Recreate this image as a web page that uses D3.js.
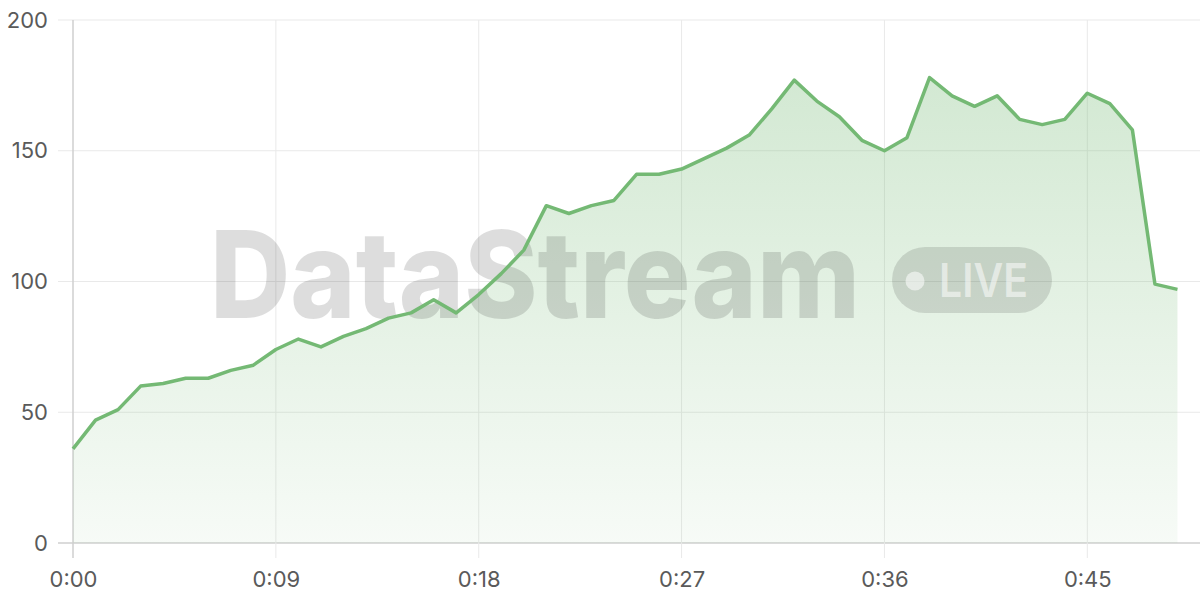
<!DOCTYPE html>
<html>
<head>
<meta charset="utf-8">
<script src="https://cdn.jsdelivr.net/npm/d3@7"></script>
<style>
  html, body { margin: 0; padding: 0; background: #fff; }
  svg { display: block; font-family: Inter, "Noto Sans", sans-serif; }
</style>
</head>
<body>
<svg id="chart" width="1200" height="600"></svg>
<script>
// Data: seconds elapsed and values
const seconds = d3.range(0, 50);
const values = [36, 47, 51, 60, 61, 63, 63, 66, 68, 74,
                78, 75, 79, 82, 86, 88, 93, 88, 95, 103,
                112, 129, 126, 129, 131, 141, 141, 143, 147, 151,
                156, 166, 177, 169, 163, 154, 150, 155, 178, 171,
                167, 171, 162, 160, 162, 172, 168, 158, 99, 97];
const xTicks = [0, 9, 18, 27, 36, 45];
const yTicks = [0, 50, 100, 150, 200];
const watermarkText = "DataStream";
const badgeText = "LIVE";

(function () {
const data = seconds.map((s, i) => ({ s, v: values[i] }));

const svg = d3.select("#chart");
const mLeft = 73, mRight = 1200, mTop = 20, mBottom = 543;
const labelFont = "Inter, sans-serif";

const x = d3.scaleLinear().domain([0, 50]).range([mLeft, mRight]);
const y = d3.scaleLinear().domain([0, 200]).range([mBottom, mTop]);

const fmt = s => `${Math.floor(s / 60)}:${String(s % 60).padStart(2, "0")}`;

// defs: gradient
const defs = svg.append("defs");
const grad = defs.append("linearGradient")
  .attr("id", "areaGrad").attr("gradientUnits", "userSpaceOnUse")
  .attr("x1", 0).attr("x2", 0).attr("y1", y(178)).attr("y2", y(0));
grad.append("stop").attr("offset", "0%").attr("stop-color", "#74b974").attr("stop-opacity", 0.32);
grad.append("stop").attr("offset", "100%").attr("stop-color", "#74b974").attr("stop-opacity", 0.06);

// grid lines
const grid = svg.append("g");
grid.selectAll("line.h").data(yTicks).join("line")
  .attr("x1", mLeft - 15).attr("x2", mRight)
  .attr("y1", d => y(d)).attr("y2", d => y(d))
  .attr("stroke", d => d === 0 ? "#cfcfcf" : "#e9e9e9").attr("stroke-width", d => d === 0 ? 1.5 : 1);
grid.selectAll("line.v").data(xTicks).join("line")
  .attr("x1", d => x(d)).attr("x2", d => x(d))
  .attr("y1", mTop).attr("y2", mBottom + 15)
  .attr("stroke", d => d === 0 ? "#cfcfcf" : "#e9e9e9").attr("stroke-width", d => d === 0 ? 1.5 : 1);

// area
const area = d3.area().x(d => x(d.s)).y0(y(0)).y1(d => y(d.v));
svg.append("path").datum(data).attr("d", area).attr("fill", "url(#areaGrad)");

// watermark
const wm = svg.append("g").attr("pointer-events", "none");
wm.append("text")
  .attr("x", 210).attr("y", 318)
  .attr("font-size", 121).attr("font-weight", 800)
  .attr("textLength", 650).attr("lengthAdjust", "spacingAndGlyphs")
  .attr("fill", "rgba(0,0,0,0.135)")
  .text(watermarkText);
wm.append("rect")
  .attr("x", 892).attr("y", 247).attr("width", 160).attr("height", 66).attr("rx", 33)
  .attr("fill", "rgba(0,0,0,0.12)");
wm.append("circle").attr("cx", 915).attr("cy", 281).attr("r", 9.5)
  .attr("fill", "rgba(255,255,255,0.55)");
wm.append("text")
  .attr("x", 939).attr("y", 297)
  .attr("font-size", 47).attr("font-weight", 600)
  .attr("textLength", 89).attr("lengthAdjust", "spacingAndGlyphs")
  .attr("fill", "rgba(255,255,255,0.55)")
  .text(badgeText);

// line
const line = d3.line().x(d => x(d.s)).y(d => y(d.v));
svg.append("path").datum(data).attr("d", line)
  .attr("fill", "none").attr("stroke", "#74b974").attr("stroke-width", 3.5)
  .attr("stroke-linejoin", "round");

// axes labels
const yAxis = d3.axisLeft(y).tickValues(yTicks).tickSize(0).tickPadding(25);
const gy = svg.append("g").attr("transform", `translate(${mLeft},0)`).call(yAxis);
gy.select(".domain").remove();
gy.selectAll("text").attr("font-size", 22).attr("fill", "#5a5a5a").attr("font-family", labelFont);

const xAxis = d3.axisBottom(x).tickValues(xTicks).tickFormat(fmt).tickSize(0).tickPadding(28);
const gx = svg.append("g").attr("transform", `translate(0,${mBottom})`).call(xAxis);
gx.select(".domain").remove();
gx.selectAll("text").attr("font-size", 22).attr("fill", "#5a5a5a").attr("font-family", labelFont);
})();
</script>
</body>
</html>
